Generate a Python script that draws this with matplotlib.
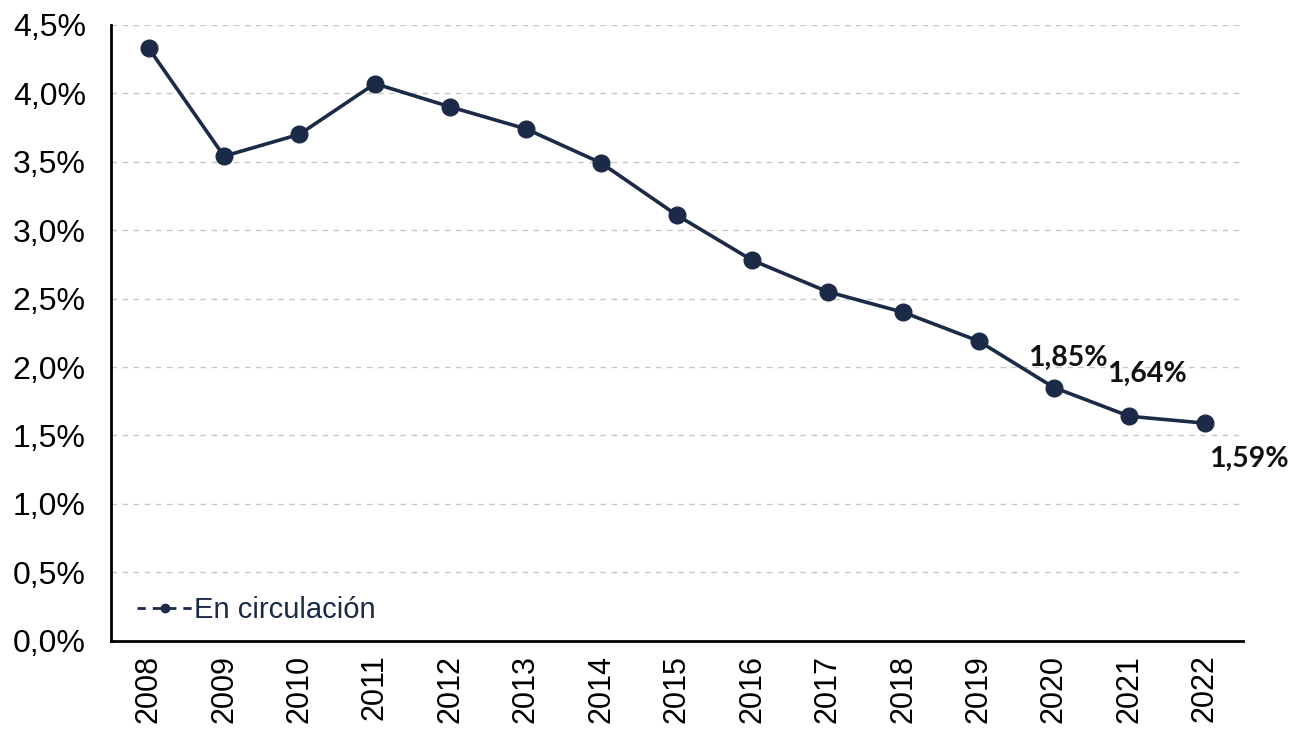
import matplotlib
matplotlib.use("Agg")
from matplotlib import pyplot as plt
from matplotlib.lines import Line2D

# Data
years = ["2008", "2009", "2010", "2011", "2012", "2013", "2014", "2015",
         "2016", "2017", "2018", "2019", "2020", "2021", "2022"]
values = [4.33, 3.54, 3.70, 4.07, 3.90, 3.74, 3.49, 3.11,
          2.78, 2.55, 2.40, 2.19, 1.85, 1.64, 1.59]
labelled = {"2020": "1,85%", "2021": "1,64%", "2022": "1,59%"}
yticks = [0.0, 0.5, 1.0, 1.5, 2.0, 2.5, 3.0, 3.5, 4.0, 4.5]

navy = "#1b2a47"

plt.rcParams["font.family"] = ["Liberation Sans", "DejaVu Sans"]

fig = plt.figure(figsize=(12.89, 7.29), dpi=100)
ax = fig.add_axes([0.086, 0.121, 0.878, 0.845])

x = list(range(len(years)))
ax.plot(x, values, color=navy, lw=2.6, marker="o", ms=12, zorder=3)

# Value labels for the last three years
offsets = {"2020": (14, 30), "2021": (18, 42), "2022": (44, -36)}
for i, yr in enumerate(years):
    if yr in labelled:
        dx, dy = offsets[yr]
        ax.annotate(labelled[yr], (x[i], values[i]), xytext=(dx, dy),
                    textcoords="offset pixels", ha="center", va="center",
                    fontsize=20.5, fontweight="bold", color="#111111",
                    family=["Lato", "DejaVu Sans"])

ax.set_xlim(-0.5, len(years) - 0.5)
ax.set_ylim(0, 4.5)
ax.set_xticks(x)
ax.set_xticklabels(years, rotation=90, fontsize=22)
ax.set_yticks(yticks)
ax.set_yticklabels([f"{v:.1f}%".replace(".", ",") for v in yticks], fontsize=23)
ax.tick_params(length=0, pad=10)
ax.tick_params(axis="y", pad=18)

ax.yaxis.grid(True, ls=(0, (4, 4)), color="#c8c8c8", lw=1)
ax.set_axisbelow(True)
for side in ["top", "right"]:
    ax.spines[side].set_visible(False)
ax.spines["left"].set_linewidth(2)
ax.spines["bottom"].set_linewidth(2)

handle = Line2D([], [], color=navy, lw=2, ls=(0, (3, 2.5)), marker="o", ms=6)
leg = ax.legend([handle], ["En circulación"], loc="lower left", frameon=False,
                fontsize=21, handlelength=1.9, handletextpad=0.05,
                bbox_to_anchor=(0.0, -0.015))
for t in leg.get_texts():
    t.set_color(navy)

fig.savefig("out.png", dpi=100)
